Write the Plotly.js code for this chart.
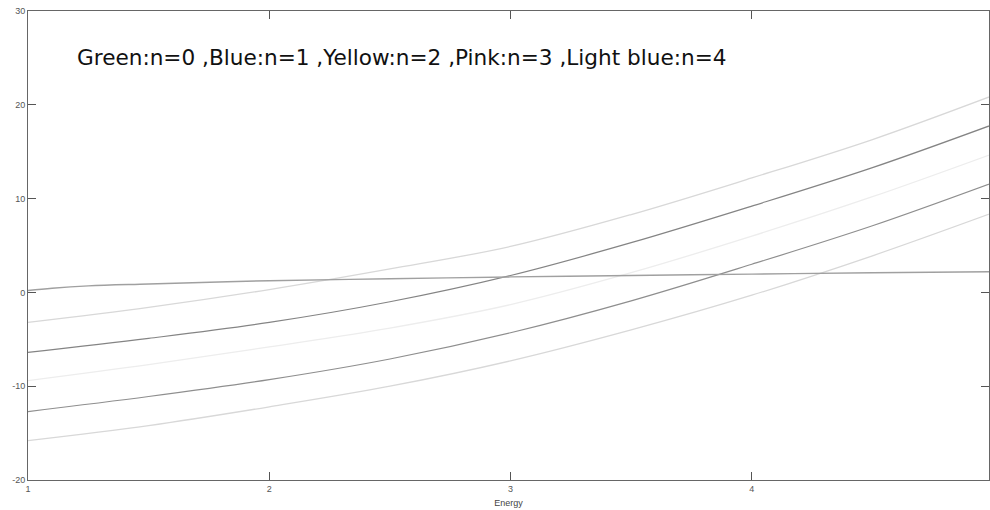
<!DOCTYPE html>
<html>
<head>
<meta charset="utf-8">
<script src="https://cdn.plot.ly/plotly-3.0.1.min.js"></script>
<style>html,body{margin:0;padding:0;background:#fff;}#chart{width:990px;height:510px;}</style>
</head>
<body>
<div id="chart"></div>
<script>
// Energy values (x)
const energy = [1, 1.5, 2, 2.5, 3, 3.5, 4, 4.5, 5];
const energyFlat = [1, 1.1, 1.25, 1.5, 2, 2.5, 3, 3.5, 4, 4.5, 5];

// Series
const flatSeries = [0.2, 0.45, 0.7, 0.9, 1.25, 1.45, 1.65, 1.8, 1.95, 2.1, 2.2];
const seriesB = [-3.2, -1.6, 0.3, 2.5, 4.9, 8.3, 12.2, 16.3, 21.0];
const seriesC = [-6.4, -4.9, -3.2, -1.0, 1.8, 5.3, 9.2, 13.3, 17.9];
const seriesD = [-9.4, -7.7, -5.8, -3.8, -1.3, 2.1, 6.0, 10.2, 14.8];
const seriesE = [-12.7, -11.1, -9.3, -7.1, -4.3, -0.9, 3.0, 7.1, 11.7];
const seriesF = [-15.8, -14.2, -12.2, -10.0, -7.3, -4.0, -0.3, 3.9, 8.5];

const xTicks = [1, 2, 3, 4];
const yTicks = [-20, -10, 0, 10, 20, 30];
const noteText = "Green:n=0 ,Blue:n=1 ,Yellow:n=2 ,Pink:n=3 ,Light blue:n=4";

function tr(x, y, color, w) {
  return {x: x, y: y, type: 'scatter', mode: 'lines',
    line: {color: color, width: w, shape: 'spline', smoothing: 1},
    hoverinfo: 'skip', showlegend: false};
}

const data = [
  tr(energy, seriesF, '#d8d8d8', 1.3),
  tr(energy, seriesE, '#8e8e8e', 1.2),
  tr(energy, seriesD, '#ededed', 1.3),
  tr(energy, seriesC, '#848484', 1.2),
  tr(energy, seriesB, '#d8d8d8', 1.3),
  tr(energyFlat, flatSeries, '#a0a0a0', 1.4)
];

const axisCommon = {
  showline: true, linecolor: '#666', linewidth: 1, mirror: 'ticks',
  ticks: 'inside', ticklen: 8, tickcolor: '#555', tickwidth: 1,
  showgrid: false, zeroline: false,
  tickfont: {family: 'Liberation Sans, Arial, sans-serif', size: 9, color: '#555'}
};

const layout = {
  width: 990, height: 510,
  margin: {l: 28, r: 1, t: 11, b: 30},
  paper_bgcolor: '#fff', plot_bgcolor: '#fff',
  xaxis: Object.assign({}, axisCommon, {
    range: [1, 4.983], tickvals: xTicks, ticktext: xTicks.map(String),
    title: {text: 'Energy', standoff: 6,
      font: {family: 'Liberation Sans, Arial, sans-serif', size: 9, color: '#444'}}
  }),
  yaxis: Object.assign({}, axisCommon, {
    range: [-20, 30], tickvals: yTicks, ticktext: yTicks.map(String)
  }),
  annotations: [{
    text: noteText, xref: 'paper', yref: 'paper',
    x: 0.049, y: 0.9, xanchor: 'left', yanchor: 'middle', showarrow: false,
    font: {family: 'DejaVu Sans, sans-serif', size: 21.6, color: '#111'}
  }]
};

Plotly.newPlot('chart', data, layout, {displayModeBar: false, staticPlot: true});
</script>
</body>
</html>
